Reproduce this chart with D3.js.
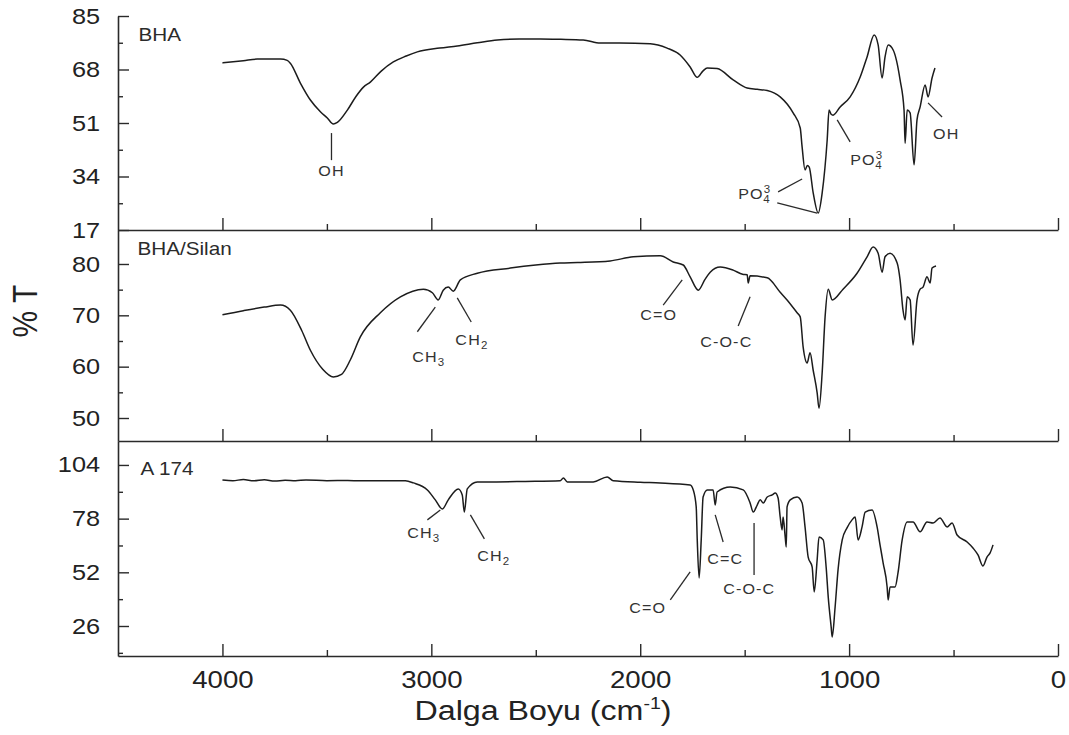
<!DOCTYPE html>
<html>
<head>
<meta charset="utf-8">
<script src="https://cdn.jsdelivr.net/npm/d3@7"></script>
<style>
  body { margin: 0; background: #fff; }
  svg { display: block; font-family: Arial, "Liberation Sans", sans-serif; }
</style>
</head>
<body>
<svg id="chart" width="1069" height="735"></svg>
<script>
// ---- FT-IR spectra: wavenumber (cm-1) and transmittance (%T) ----
const wnBHA = [4000,3900,3833,3722,3690,3675,3627,3579,3530,3498,3469,3450,3402,3360,3325,3292,3240,3182,3120,3067,2960,2876,2780,2684,2580,2478,2380,2273,2191,2100,1952,1871,1809,1761,1727,1700,1679,1632,1555,1488,1440,1392,1330,1268,1234,1225,1211,1200,1191,1172,1148,1129,1105,1096,1086,1077,1043,995,947,914,880,861,842,828,813,789,756,737,732,722,708,689,675,660,636,622,603,589];
const tBHA  = [70.1,70.8,71.3,71.3,70.9,70.0,63.7,58.3,54.5,52.6,50.7,51.2,55.1,59.5,62.4,64.0,67.5,70.4,72.3,73.6,74.8,75.5,76.5,77.4,77.7,77.7,77.6,77.4,76.4,76.4,76.2,74.8,72.6,68.8,65.5,67.5,68.5,68.3,64.7,62.1,61.7,61.3,59.3,54.2,49.4,43.4,36.1,37.5,37.0,28.8,22.4,28.8,45.6,55.1,53.8,53.5,56.1,59.3,65.6,72.0,79.0,75.8,65.3,72.0,75.8,74.2,64.7,55.1,44.6,55.1,54.2,37.7,52.0,56.1,63.1,59.3,65.3,68.5];

const wnSilan = [4000,3900,3800,3722,3675,3620,3579,3520,3469,3430,3388,3340,3244,3148,3038,2995,2967,2943,2919,2895,2861,2780,2622,2500,2383,2300,2144,2033,1904,1842,1794,1761,1722,1690,1665,1617,1555,1510,1488,1483,1474,1392,1330,1297,1249,1234,1220,1201,1187,1172,1153,1144,1129,1115,1100,1081,1029,962,914,885,861,842,828,804,770,756,742,732,722,708,694,675,660,646,627,612,603,584];
const tSilan  = [70.1,70.9,71.6,72.0,71.0,67.0,63.2,59.5,58.0,58.5,61.3,65.8,70.5,73.6,75.1,74.4,73.0,74.9,75.5,74.7,76.9,78.2,79.2,79.8,80.2,80.3,80.6,81.4,81.6,80.4,79.8,77.5,74.9,77.0,78.4,79.4,78.8,78.0,77.9,76.3,77.7,77.3,74.5,73.0,70.5,69.7,63.8,60.7,62.7,59.3,54.9,51.9,58.8,69.7,75.1,73.0,75.1,78.2,81.4,83.3,82.1,78.4,81.4,82.1,80.2,76.9,71.0,69.1,73.6,73.0,64.2,73.0,75.1,75.5,77.5,76.3,79.2,79.6];

const wnA174 = [4000,3950,3900,3850,3800,3750,3700,3650,3600,3500,3400,3340,3200,3124,3086,3019,2981,2947,2919,2871,2852,2842,2828,2780,2703,2550,2383,2368,2349,2225,2158,2129,2000,1904,1761,1746,1732,1727,1718,1708,1699,1679,1651,1641,1632,1569,1507,1474,1459,1440,1426,1411,1392,1368,1354,1340,1330,1321,1316,1306,1301,1297,1282,1249,1225,1211,1196,1177,1167,1153,1144,1124,1110,1100,1086,1081,1067,1053,1033,1010,986,971,957,938,923,890,866,852,837,818,813,804,780,766,746,722,694,660,627,598,565,531,507,483,435,407,383,359,340,325,311];
const tA174  = [96.7,96.4,96.9,96.3,96.8,96.2,96.6,96.4,96.7,96.4,96.5,96.3,96.3,96.3,95.3,91.9,87.1,82.7,87.1,92.4,89.5,81.2,92.4,95.8,95.8,96.0,96.3,97.7,95.8,95.8,98.2,96.3,95.6,95.3,94.3,91.9,83.7,67.7,49.3,67.7,88.5,91.9,91.9,84.6,90.9,93.3,91.9,85.6,81.2,84.6,87.1,85.6,88.5,89.5,90.4,88.0,78.8,72.5,78.8,69.1,64.3,83.7,87.1,88.5,85.6,74.0,59.4,54.6,42.5,58.0,69.1,67.7,54.6,40.1,25.6,20.7,35.2,53.2,67.7,73.5,77.4,78.8,67.7,74.0,81.2,82.2,74.0,65.3,56.5,44.9,38.6,44.9,44.9,51.7,67.7,76.4,76.4,71.6,76.4,75.9,78.3,74.0,75.9,70.1,66.7,63.8,60.4,55.1,59.4,61.4,65.3];

// ---- axis ticks ----
const xTicks = [4000, 3000, 2000, 1000, 0];
const xMinorTicks = [3500, 2500, 1500, 500];
const yTicksBHA = [17, 34, 51, 68, 85];
const yMinorBHA = [25.5, 42.5, 59.5, 76.5];
const yTicksSilan = [50, 60, 70, 80];
const yMinorSilan = [55, 65, 75];
const yTicksA174 = [26, 52, 78, 104];
const yMinorA174 = [13, 39, 65, 91];

// ---- band assignments: [label, subscript, superscript, text wn, text %T, leader lines, anchor] ----
const notesBHA = [
  ["OH", "", "", 3478, 34.2, [[3478, 47.8, 3478, 39.2]], "middle"],
  ["PO", "4", "3", 1531, 26.85, [[1340, 29.1, 1225, 33.2], [1344, 25.6, 1153, 22.4]], "start"],
  ["PO", "4", "3", 995, 37.7, [[1057, 52.0, 995, 45.0]], "start"],
  ["OH", "", "", 598, 45.9, [[622, 57.4, 555, 52.9]], "start"]
];
const notesSilan = [
  ["CH", "3", "", 3091, 60.9, [[3067, 66.8, 2981, 71.6]], "start"],
  ["CH", "2", "", 2885, 64.2, [[2876, 73.4, 2809, 68.7]], "start"],
  ["C=O", "", "", 2000, 69.1, [[1890, 72.0, 1799, 76.9]], "start"],
  ["C-O-C", "", "", 1713, 63.8, [[1531, 67.9, 1474, 73.6]], "start"]
];
const notesA174 = [
  ["CH", "3", "", 3115, 68.6, [[3019, 77.4, 2957, 82.2]], "start"],
  ["CH", "2", "", 2780, 57.5, [[2813, 79.8, 2746, 68.2]], "start"],
  ["C=O", "", "", 2053, 32.3, [[1856, 38.6, 1761, 52.2]], "start"],
  ["C=C", "", "", 1679, 56.1, [[1641, 79.8, 1603, 66.7]], "start"],
  ["C-O-C", "", "", 1603, 41.5, [[1455, 75.9, 1455, 50.7]], "start"]
];

const panelNames = ["BHA", "BHA/Silan", "A 174"];

// ---- layout ----
const svg = d3.select("#chart");
const SX = 1.15; // horizontal text stretch
const ink = "#222";

const x = d3.scaleLinear().domain([4500, 0]).range([118, 1058]);

const panels = [
  { name: panelNames[0], wn: wnBHA, t: tBHA, domain: [17, 85], top: 16, bottom: 230,
    major: yTicksBHA, minor: yMinorBHA, notes: notesBHA, nameAt: [4402, 77.0] },
  { name: panelNames[1], wn: wnSilan, t: tSilan, domain: [45.52, 86.62], top: 230, bottom: 441,
    major: yTicksSilan, minor: yMinorSilan, notes: notesSilan, nameAt: [4407, 81.75] },
  { name: panelNames[2], wn: wnA174, t: tA174, domain: [11.47, 115.6], top: 441, bottom: 656,
    major: yTicksA174, minor: yMinorA174, notes: notesA174, nameAt: [4392, 99.2] }
];

function styleAxis(g) {
  g.selectAll("path.domain").attr("stroke", "#2a2a2a").attr("stroke-width", 1.6);
  g.selectAll(".tick line").attr("stroke", "#2a2a2a").attr("stroke-width", 1.4);
}

panels.forEach((p, i) => {
  const y = d3.scaleLinear().domain(p.domain).range([p.bottom, p.top]);
  const g = svg.append("g");

  // spectrum trace
  const pts = p.wn.map((w, k) => [w, p.t[k]]);
  g.append("path")
    .datum(pts)
    .attr("fill", "none")
    .attr("stroke", "#1c1c1c")
    .attr("stroke-width", 1.5)
    .attr("stroke-linejoin", "round")
    .attr("d", d3.line().curve(d3.curveMonotoneX).x(d => x(d[0])).y(d => y(d[1])));

  // left axis: major ticks pointing inward with labels
  const yAx = g.append("g").attr("transform", `translate(${x(4500)},0)`)
    .call(d3.axisLeft(y).tickValues(p.major).tickSizeInner(-11).tickSizeOuter(0).tickPadding(18).tickFormat(d3.format("d")));
  yAx.selectAll("text")
    .attr("font-size", 22).attr("fill", ink).attr("font-family", "Arial, 'Liberation Sans', sans-serif")
    .attr("x", -18 / SX).attr("transform", `scale(${SX},1)`);
  styleAxis(yAx);
  const yMin = g.append("g").attr("transform", `translate(${x(4500)},0)`)
    .call(d3.axisLeft(y).tickValues(p.minor).tickSizeInner(-5).tickSizeOuter(0).tickFormat(""));
  yMin.select("path.domain").remove();
  styleAxis(yMin);

  // bottom axis with upward ticks
  const last = i === panels.length - 1;
  const xAx = g.append("g").attr("transform", `translate(0,${p.bottom})`)
    .call(d3.axisBottom(x).tickValues(xTicks).tickSizeInner(-12).tickSizeOuter(0).tickPadding(15)
      .tickFormat(last ? d3.format("d") : ""));
  xAx.selectAll("text")
    .attr("font-size", 24).attr("fill", ink).attr("font-family", "Arial, 'Liberation Sans', sans-serif")
    .attr("transform", `scale(${SX},1)`);
  styleAxis(xAx);
  const xMin = g.append("g").attr("transform", `translate(0,${p.bottom})`)
    .call(d3.axisBottom(x).tickValues(xMinorTicks).tickSizeInner(-6).tickSizeOuter(0).tickFormat(""));
  xMin.select("path.domain").remove();
  styleAxis(xMin);

  // sample name
  g.append("text")
    .attr("transform", `translate(${x(p.nameAt[0])},${y(p.nameAt[1])}) scale(${SX},1)`)
    .attr("font-size", 18).attr("fill", "#2b2b2b")
    .text(p.name);

  // band assignments
  p.notes.forEach(n => {
    const [label, sub, sup, tw, tv, lines, anchor] = n;
    lines.forEach(l => {
      g.append("line")
        .attr("x1", x(l[0])).attr("y1", y(l[1]))
        .attr("x2", x(l[2])).attr("y2", y(l[3]))
        .attr("stroke", "#2a2a2a").attr("stroke-width", 1.3);
    });
    const t = g.append("text")
      .attr("transform", `translate(${x(tw)},${y(tv)}) scale(${SX},1)`)
      .attr("text-anchor", anchor)
      .attr("font-size", 14).attr("letter-spacing", 1).attr("fill", "#333");
    t.append("tspan").text(label);
    if (sup) {
      t.append("tspan").attr("font-size", 10).attr("dy", -6).text(sup);
      t.append("tspan").attr("font-size", 10).attr("dx", -7).attr("dy", 10).text(sub);
    } else if (sub) {
      t.append("tspan").attr("font-size", 10).attr("dy", 4).text(sub);
    }
  });
});

// axis titles
const xt = svg.append("text")
  .attr("transform", `translate(543,720) scale(${SX},1)`)
  .attr("text-anchor", "middle").attr("font-size", 28).attr("fill", ink);
xt.append("tspan").text("Dalga Boyu (cm");
xt.append("tspan").attr("font-size", 17).attr("dy", -11).text("-1");
xt.append("tspan").attr("dy", 11).text(")");

svg.append("text")
  .attr("transform", "translate(37,311) rotate(-90) scale(1,1.15)")
  .attr("text-anchor", "middle").attr("font-size", 30).attr("fill", ink)
  .text("% T");
</script>
</body>
</html>
